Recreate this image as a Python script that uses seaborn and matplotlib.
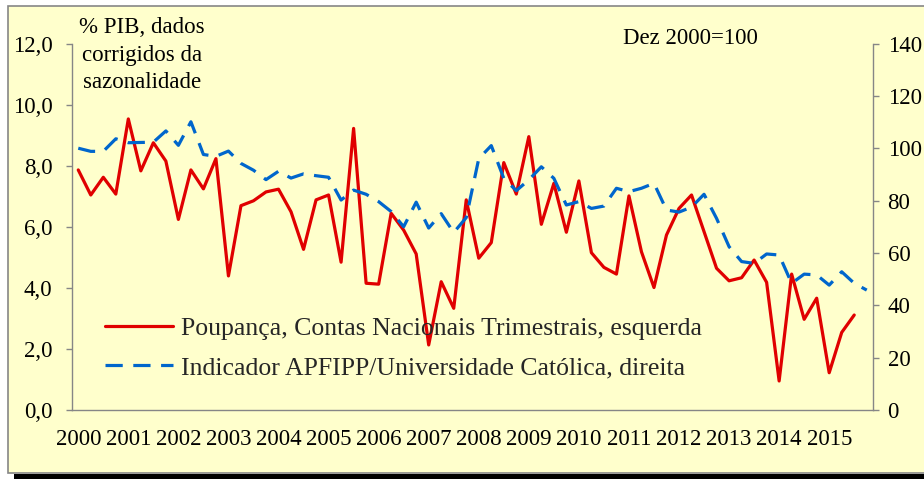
import matplotlib
matplotlib.use("Agg")
import matplotlib.pyplot as plt
import seaborn as sns
import pandas as pd
import numpy as np
from matplotlib.patches import Rectangle
from matplotlib.lines import Line2D

# ---------------- data ----------------
years = list(range(2000, 2016))
quarters = ["T1", "T2", "T3", "T4"]

poupanca = [
    7.86, 7.04, 7.62, 7.07,
    9.53, 7.83, 8.75, 8.15,
    6.24, 7.86, 7.24, 8.23,
    4.39, 6.69, 6.85, 7.14,
    7.23, 6.49, 5.26, 6.88,
    7.04, 4.84, 9.22, 4.15,
    4.12, 6.44, 5.89, 5.11,
    2.13, 4.20, 3.33, 6.88,
    4.97, 5.48, 8.10, 7.07,
    8.95, 6.08, 7.42, 5.82,
    7.50, 5.15, 4.67, 4.45,
    7.01, 5.18, 4.01, 5.73,
    6.60, 7.04, 5.84, 4.64,
    4.23, 4.33, 4.91, 4.18,
    0.95, 4.45, 2.97, 3.66,
    1.22, 2.54, 3.11,
]

indicador = [
    100.0, 98.8, 98.8, 103.6,
    102.1, 102.2, 102.3, 106.6,
    101.1, 110.1, 97.6, 96.9,
    98.9, 94.2, 91.6, 88.0,
    91.2, 88.6, 90.2, 89.5,
    88.9, 80.2, 84.0, 82.4,
    79.6, 75.8, 70.0, 79.4,
    69.5, 75.0, 67.8, 73.5,
    96.0, 101.0, 88.5, 83.8,
    87.9, 92.9, 88.5, 78.3,
    79.6, 77.0, 77.9, 84.7,
    83.4, 84.7, 86.6, 76.4,
    75.6, 77.5, 82.4, 73.2,
    62.4, 56.7, 56.0, 59.6,
    59.2, 48.4, 51.9, 51.6,
    47.7, 52.8, 48.4, 45.8,
]

label_poup = "Poupança, Contas Nacionais Trimestrais, esquerda"
label_ind = "Indicador APFIPP/Universidade Católica, direita"

# ---------------- style ----------------
sns.set_style("white")
plt.rcParams["font.family"] = ["Liberation Serif", "DejaVu Serif"]

BG = "#FFFFCC"
RED = "#E00000"
BLUE = "#0066CC"
GRAY = "#868686"
FS = 16.5
FS_LEG = 18.5

W, H = 924, 479
fig = plt.figure(figsize=(W / 100, H / 100), dpi=100)
fig.patch.set_facecolor("white")

# chart frame with shadow
fig.patches.append(Rectangle((14 / W, 0), 1, 5 / H, transform=fig.transFigure,
                             facecolor="black", edgecolor="none", zorder=-2))
fig.patches.append(Rectangle((8 / W, (H - 473) / H), 1, (473 - 6) / H,
                             transform=fig.transFigure, facecolor=BG,
                             edgecolor=GRAY, linewidth=1.2, zorder=-1))

# axes geometry (pixels)
x0, x1, ytop, ybot = 72, 873, 43.5, 410
ax = fig.add_axes([x0 / W, (H - ybot) / H, (x1 - x0) / W, (ybot - ytop) / H])
ax.set_facecolor("none")
ax2 = ax.twinx()
ax2.set_facecolor("none")

n = len(years) * 4
qpos = np.arange(n)
df1 = pd.DataFrame({"pos": qpos[:len(poupanca)], "val": poupanca})
df2 = pd.DataFrame({"pos": qpos[:len(indicador)], "val": indicador})

lw = 2.3
sns.lineplot(data=df1, x="pos", y="val", ax=ax, color=RED, linewidth=lw, zorder=3)
sns.lineplot(data=df2, x="pos", y="val", ax=ax2, color=BLUE, linewidth=lw, zorder=3)
ax2.lines[0].set_dashes((5.4, 3.3))

ax.set_xlim(-0.5, n - 0.5)
ax.set_ylim(0, 12)
ax2.set_ylim(0, 140)

ax.set_xlabel("")
ax.set_ylabel("")
ax2.set_xlabel("")
ax2.set_ylabel("")

# x ticks: marks between years, labels on first quarter
ax.set_xticks(np.arange(-0.5, n, 4))
ax.set_xticklabels([])
ax.set_xticks(np.arange(0, n, 4), minor=True)
ax.set_xticklabels([str(y) for y in years], minor=True)
ax.tick_params(axis="x", which="major", length=4.5, width=1, color=GRAY, direction="out")
ax.tick_params(axis="x", which="minor", length=0, pad=14, labelsize=FS, colors="black")

ax.set_yticks(np.arange(0, 12.1, 2))
ax.set_yticklabels([f"{v:.1f}".replace(".", ",") for v in np.arange(0, 12.1, 2)])
ax.tick_params(axis="y", length=4.5, width=1, color=GRAY, direction="out",
               labelsize=FS, pad=9.5, labelcolor="black")
ax2.set_yticks(np.arange(0, 141, 20))
ax2.tick_params(axis="y", length=4.5, width=1, color=GRAY, direction="out",
                labelsize=FS, pad=6, labelcolor="black")

for a in (ax, ax2):
    a.spines["top"].set_visible(False)
    for s in ("left", "bottom", "right"):
        a.spines[s].set_color(GRAY)
        a.spines[s].set_linewidth(1)
ax.spines["right"].set_visible(False)
ax2.spines["left"].set_visible(False)
ax2.spines["bottom"].set_visible(False)

# legend
handles = [
    Line2D([], [], color=RED, linewidth=lw),
    Line2D([], [], color=BLUE, linewidth=lw, dashes=(5.4, 3.3)),
]
leg = ax2.legend(handles, [label_poup, label_ind], loc="center left",
                 bbox_to_anchor=((105 - x0) / (x1 - x0), (ybot - 348) / (ybot - ytop)),
                 frameon=False, fontsize=FS_LEG, handlelength=2.65, handletextpad=0.31,
                 labelspacing=0.65, borderaxespad=0, borderpad=0)

# annotations
fig.text(142 / W, 1 - 55 / H, "% PIB, dados\ncorrigidos da\nsazonalidade",
         ha="center", va="center", fontsize=FS, linespacing=1.38, color="black")
fig.text(690 / W, 1 - 38 / H, "Dez 2000=100", ha="center", va="center",
         fontsize=FS, color="black")

fig.savefig("out.png", dpi=100, facecolor="white")
